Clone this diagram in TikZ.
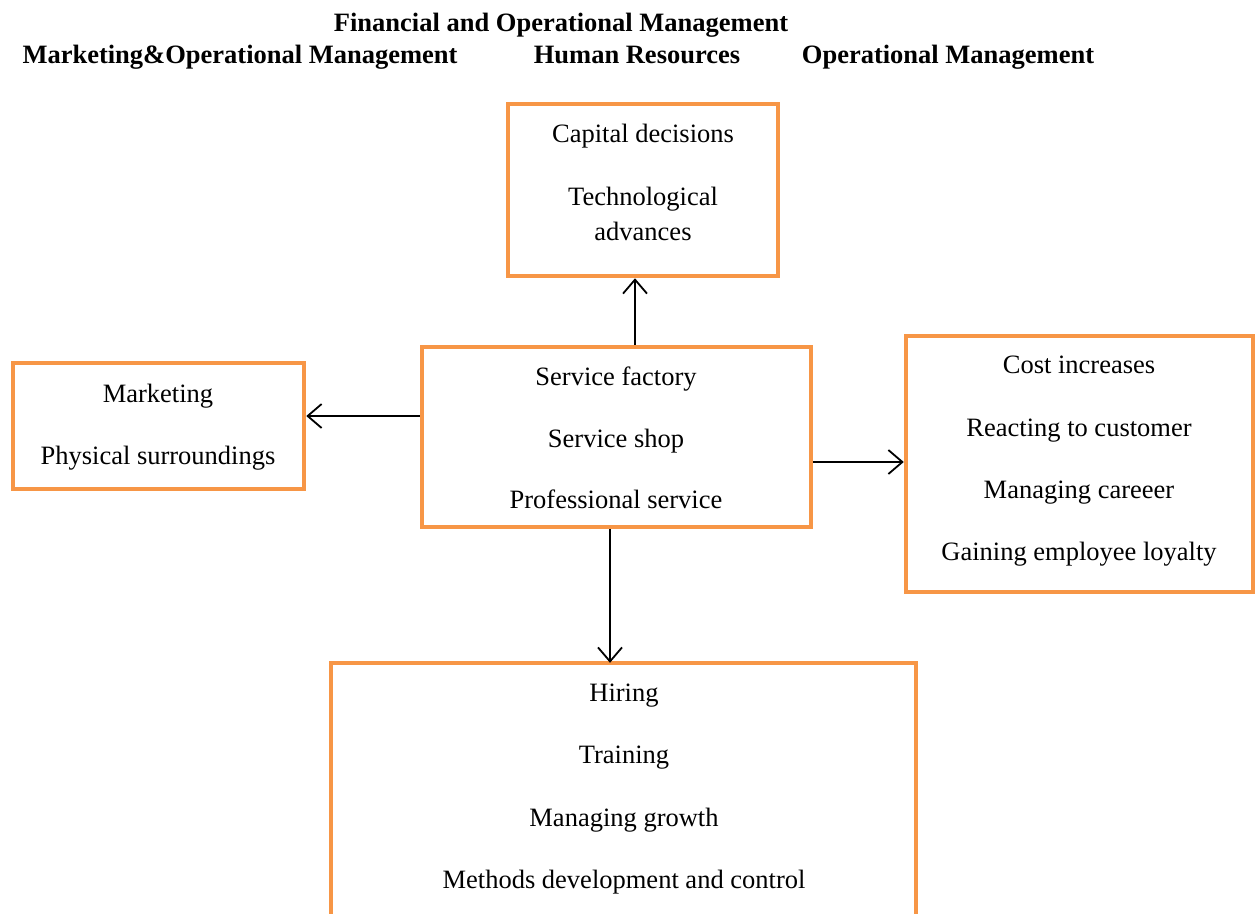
\documentclass[tikz,border=0pt]{standalone}
\usepackage{fontspec}
\setmainfont{Liberation Serif}
\usetikzlibrary{arrows.meta}
\definecolor{boxorange}{HTML}{F79646}
\begin{document}
\begin{tikzpicture}[x=1pt,y=-1pt,
  box/.style={draw=boxorange,line width=4.5pt,line join=miter,inner sep=0pt},
  txt/.style={font=\fontsize{26.5}{30}\selectfont,inner sep=0pt,anchor=base},
  hdr/.style={font=\fontsize{26.5}{30}\selectfont\bfseries,inner sep=0pt,anchor=base},
  arr/.style={draw=black,line width=1.8pt,-{Straight Barb[length=14pt,width=24pt,line width=1.8pt]}}]
\useasboundingbox (0,0) rectangle (1258,913);
% headers (baselines)
\node[hdr] (h1) at (561,31) {Financial and Operational Management};
\node[hdr] (h2) at (240,63) {Marketing\&Operational Management};
\node[hdr] (h3) at (637,63) {Human Resources};
\node[hdr] (h4) at (948,63) {Operational Management};
% boxes
\node[box,minimum width=270pt,minimum height=172pt] (top) at (643,190) {};
\node[box,minimum width=389pt,minimum height=180pt] (ctr) at (616.5,437) {};
\node[box,minimum width=291pt,minimum height=126pt] (lft) at (158.5,426) {};
\node[box,minimum width=347pt,minimum height=256pt] (rgt) at (1079.5,464) {};
\node[inner sep=0pt,minimum width=585pt,minimum height=300pt] (bot) at (623.5,813) {};
\draw[draw=boxorange,line width=4.5pt,line join=miter] (bot.south west) -- (bot.north west) -- (bot.north east) -- (bot.south east);
% texts (baselines)
\node[txt] (t1) at (643,142) {Capital decisions};
\node[txt] (t2) at (643,205) {Technological};
\node[txt] (t3) at (643,240) {advances};
\node[txt] (c1) at (616,385) {Service factory};
\node[txt] (c2) at (616,447) {Service shop};
\node[txt] (c3) at (616,508) {Professional service};
\node[txt] (l1) at (158,402) {Marketing};
\node[txt] (l2) at (158,464) {Physical surroundings};
\node[txt] (r1) at (1079,373) {Cost increases};
\node[txt] (r2) at (1079,436) {Reacting to customer};
\node[txt] (r3) at (1079,498) {Managing careeer};
\node[txt] (r4) at (1079,560) {Gaining employee loyalty};
\node[txt] (b1) at (624,701) {Hiring};
\node[txt] (b2) at (624,763) {Training};
\node[txt] (b3) at (624,826) {Managing growth};
\node[txt] (b4) at (624,888) {Methods development and control};
% arrows
\draw[arr] (ctr.north -| 635,0) -- (top.south -| 635,0);
\draw[arr] (ctr.west |- 0,416) -- (lft.east |- 0,416);
\draw[arr] (ctr.east |- 0,462) -- (rgt.west |- 0,462);
\draw[arr] (ctr.south -| 610,0) -- (bot.north -| 610,0);
\end{tikzpicture}
\end{document}
